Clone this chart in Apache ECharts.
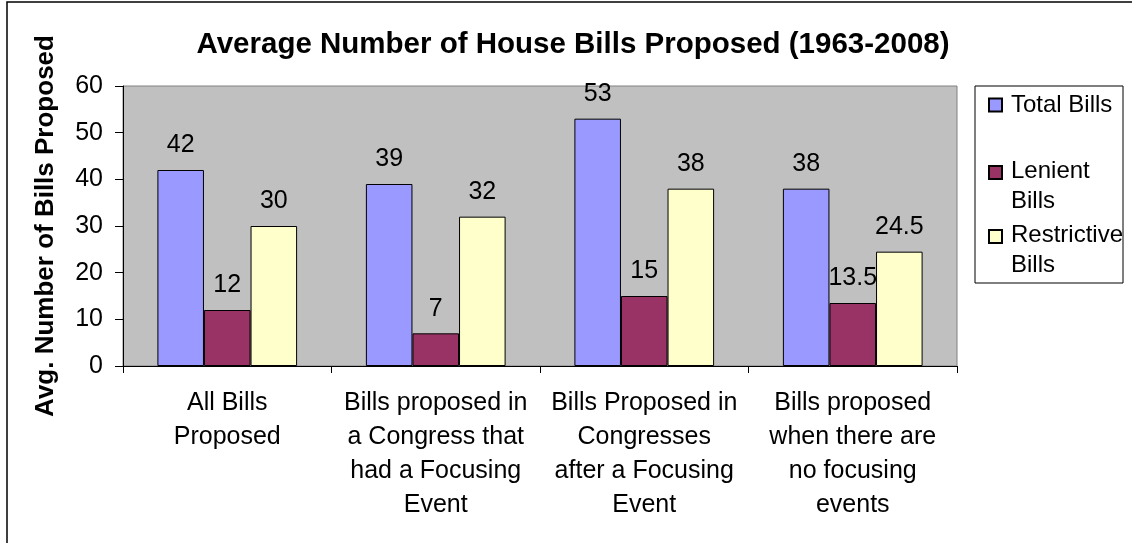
<!DOCTYPE html>
<html style="height:100%">
<head>
    <meta charset="UTF-8">
    <title>House Bills Proposed</title>
    <script src="https://cdn.jsdelivr.net/npm/echarts@6/dist/echarts.min.js"></script>
</head>
<body style="height:100%;margin:0;background:#fff">
    <div id="main" style="width:1132px;height:543px;"></div>
    <script>
        var categories = [
            'All Bills\nProposed',
            'Bills proposed in\na Congress that\nhad a Focusing\nEvent',
            'Bills Proposed in\nCongresses\nafter a Focusing\nEvent',
            'Bills proposed\nwhen there are\nno focusing\nevents'
        ];
        var totalBills = [42, 39, 53, 38];
        var lenientBills = [12, 7, 15, 13.5];
        var restrictiveBills = [30, 32, 38, 24.5];
        var seriesNames = ['Total Bills', 'Lenient Bills', 'Restrictive Bills'];
        // legend text as Excel wraps it
        var legendText = {
            'Total Bills': '{a|Total Bills}',
            'Lenient Bills': '{s| }\n{a|Lenient}\n{a|Bills}',
            'Restrictive Bills': '{s| }\n{a|Restrictive}\n{a|Bills}'
        };

        var chart = echarts.init(document.getElementById('main'), null, { renderer: 'canvas' });
        var font = 'Liberation Sans, Arial, sans-serif';

        function bar(name, data, color) {
            return {
                name: name,
                type: 'bar',
                data: data,
                barGap: '0%',
                barCategoryGap: '33%',
                itemStyle: { color: color, borderColor: '#000', borderWidth: 1 },
                label: {
                    show: true, position: 'top', distance: 12,
                    color: '#000', fontFamily: font, fontSize: 25
                }
            };
        }

        function legendItem(name, top) {
            return {
                data: [name],
                left: 988,
                top: top,
                orient: 'vertical',
                padding: 0,
                icon: 'rect',
                itemWidth: 13,
                itemHeight: 13,
                itemGap: 0,
                formatter: function (n) { return legendText[n]; },
                textStyle: {
                    fontFamily: font, fontSize: 24, color: '#000',
                    rich: {
                        a: { fontFamily: font, fontSize: 24, color: '#000', lineHeight: 29.5, padding: [0, 0, 0, 4] },
                        s: { fontSize: 10, lineHeight: 28 }
                    }
                }
            };
        }

        var option = {
            animation: false,
            backgroundColor: '#fff',
            title: {
                text: 'Average Number of House Bills Proposed (1963-2008)',
                left: 573, top: 30, padding: 0, textAlign: 'center',
                textStyle: { fontFamily: font, fontSize: 29.5, fontWeight: 'bold', color: '#000' }
            },
            graphic: [
                { type: 'rect', shape: { x: 7, y: 2, width: 1300, height: 700 }, style: { fill: null, stroke: '#000', lineWidth: 1.5 }, silent: true },
                { type: 'rect', shape: { x: 975, y: 86, width: 148, height: 197 }, style: { fill: '#fff', stroke: '#000', lineWidth: 1 }, silent: true, z: -1 }
            ],
            legend: [
                legendItem('Total Bills', 93),
                legendItem('Lenient Bills', 138),
                legendItem('Restrictive Bills', 202)
            ],
            grid: {
                left: 123, right: 175, top: 86, bottom: 177,
                show: true, backgroundColor: '#C0C0C0', borderColor: '#808080', borderWidth: 1
            },
            xAxis: {
                type: 'category',
                data: categories,
                axisLine: { lineStyle: { color: '#000', width: 1 } },
                axisTick: { show: true, length: 7, lineStyle: { color: '#000' } },
                axisLabel: {
                    interval: 0, margin: 20, color: '#000',
                    fontFamily: font, fontSize: 25, lineHeight: 34, align: 'center'
                }
            },
            yAxis: {
                type: 'value',
                min: 0, max: 60, interval: 10,
                name: 'Avg. Number of Bills Proposed',
                nameLocation: 'middle',
                nameGap: 64,
                nameTextStyle: { fontFamily: font, fontSize: 26, fontWeight: 'bold', color: '#000' },
                axisLine: { show: true, lineStyle: { color: '#000', width: 1 } },
                axisTick: { show: true, length: 8, lineStyle: { color: '#000' } },
                axisLabel: { margin: 20, color: '#000', fontFamily: font, fontSize: 25 },
                splitLine: { show: false }
            },
            series: [
                bar(seriesNames[0], totalBills, '#9999FF'),
                bar(seriesNames[1], lenientBills, '#993366'),
                bar(seriesNames[2], restrictiveBills, '#FFFFCC')
            ]
        };
        chart.setOption(option);
    </script>
</body>
</html>
